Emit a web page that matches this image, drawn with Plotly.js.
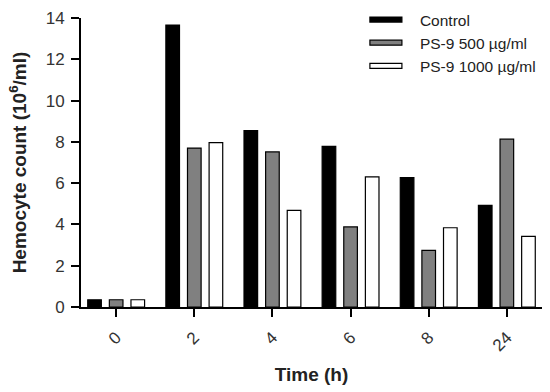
<!DOCTYPE html>
<html>
<head>
<meta charset="utf-8">
<script src="https://cdn.plot.ly/plotly-3.0.1.min.js"></script>
<style>html,body{margin:0;padding:0;background:#fff;}#chart{width:550px;height:392px;}</style>
</head>
<body>
<div id="chart"></div>
<script>
const categories = ["0", "2", "4", "6", "8", "24"];
const control = [0.35, 13.66, 8.55, 7.78, 6.27, 4.92];
const ps500 = [0.35, 7.70, 7.51, 3.88, 2.74, 8.13];
const ps1000 = [0.35, 7.96, 4.68, 6.30, 3.84, 3.42];
const seriesNames = ["Control", "PS-9 500 µg/ml", "PS-9 1000 µg/ml"];

const font = "Liberation Sans, Arial, sans-serif";
const traces = [
  {name: seriesNames[0], y: control, color: "#000000"},
  {name: seriesNames[1], y: ps500, color: "#808080"},
  {name: seriesNames[2], y: ps1000, color: "#ffffff"}
].map(s => ({
  type: "bar",
  x: categories,
  y: s.y,
  name: s.name,
  marker: {color: s.color, line: {color: "#000", width: 1.2}}
}));

const layout = {
  width: 550, height: 392,
  margin: {l: 81, r: 8, t: 18, b: 85, autoexpand: false},
  paper_bgcolor: "#fff", plot_bgcolor: "#fff",
  barmode: "group",
  bargap: 0.17,
  bargroupgap: 0.37,
  font: {family: font, color: "#333"},
  showlegend: true,
  legend: {
    x: 0.605, y: 1.052, xanchor: "left", yanchor: "top",
    font: {family: font, size: 15.5, color: "#222"},
    bgcolor: "rgba(0,0,0,0)", tracegroupgap: 14, itemwidth: 50
  },
  xaxis: {
    type: "category",
    range: [-0.45, 5.45],
    showline: true, linecolor: "#000", linewidth: 2,
    ticks: "outside", ticklen: 8, tickwidth: 2, tickcolor: "#000",
    tickangle: -45,
    ticklabelstandoff: 4,
    tickfont: {family: font, size: 17, color: "#333"},
    showgrid: false, zeroline: false,
    title: {text: "<b>Time (h)</b>", font: {family: font, size: 19, color: "#222"}, standoff: 14}
  },
  yaxis: {
    range: [0, 14],
    dtick: 2,
    showline: true, linecolor: "#000", linewidth: 2,
    ticks: "outside", ticklen: 8, tickwidth: 2, tickcolor: "#000",
    ticklabelstandoff: 3,
    tickfont: {family: font, size: 17, color: "#333"},
    showgrid: false, zeroline: false,
    title: {text: "<b>Hemocyte count (10<sup>6</sup>/ml)</b>", font: {family: font, size: 19, color: "#222"}, standoff: 14}
  }
};

Plotly.newPlot("chart", traces, layout, {displayModeBar: false, staticPlot: true}).then(gd => {
  document.querySelectorAll("#chart .legend .traces").forEach(tr => {
    const p = tr.querySelector(".legendpoints path");
    const t = tr.querySelector("text.legendtext");
    if (!p || !t) return;
    const pr = p.getBoundingClientRect();
    const tl = t.getBoundingClientRect().left;
    const originX = (pr.left + pr.right) / 2;
    const right = tl - 18 - originX;
    const left = right - 32;
    p.setAttribute("d", "M" + right + ",2.5H" + left + "V-2.5H" + right + "Z");
  });
});
</script>
</body>
</html>
